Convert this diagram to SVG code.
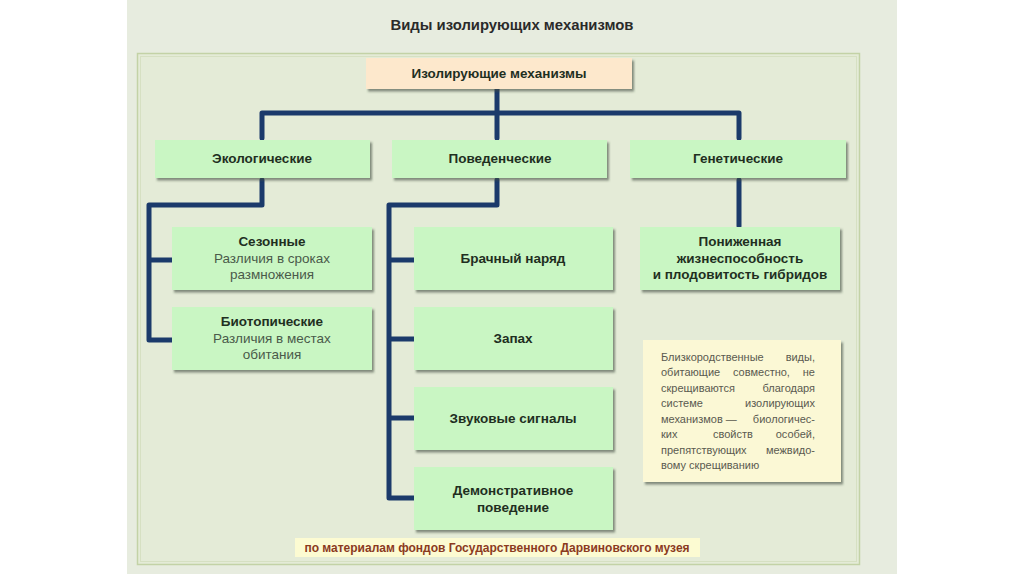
<svg xmlns="http://www.w3.org/2000/svg" width="1024" height="574" viewBox="0 0 1024 574">
<style>
.box{fill:#c9f6c3;filter:url(#sh)}
.b{font-family:"Liberation Sans",Arial,sans-serif;font-weight:bold;font-size:13.5px;fill:#1f2f1f;text-anchor:middle}
.r{font-family:"Liberation Sans",Arial,sans-serif;font-size:13.5px;fill:#4a5a4a;text-anchor:middle}
.n{font-family:"Liberation Sans",Arial,sans-serif;font-size:11px;fill:#5a5a50}
.con{fill:none;stroke:#1b3a6b;stroke-width:5;stroke-linejoin:round;stroke-linecap:round}
</style>
<defs>
<filter id="sh" x="-5%" y="-10%" width="115%" height="130%">
<feDropShadow dx="2" dy="2.5" stdDeviation="1" flood-color="#3a4a3a" flood-opacity="0.6"/>
</filter>
</defs>
<rect width="1024" height="574" fill="#ffffff"/>
<rect x="127" y="0" width="770" height="574" fill="#e7ecdf"/>
<rect x="137.5" y="53.5" width="722" height="511" fill="#e4ebd7" stroke="#c3d2a6" stroke-width="1.5"/>
<rect x="140.5" y="56.5" width="716" height="505" fill="none" stroke="#d6e0c2" stroke-width="1"/>
<text x="512" y="30" font-family="Liberation Sans,Arial,sans-serif" font-weight="bold" font-size="15" fill="#2a2a2a" text-anchor="middle" textLength="243" lengthAdjust="spacingAndGlyphs">Виды изолирующих механизмов</text>

<g id="connectors">
<path class="con" d="M497 89 V138 M262 138 V113 H739 V138"/>
<path class="con" d="M262 180 V205 H149 V340 H172 M149 260 H172"/>
<path class="con" d="M497 180 V205 H389 V498 H414 M389 260 H414 M389 339 H414 M389 418 H414"/>
<path class="con" d="M739 180 V226"/>
</g>

<g id="root">
<rect x="366" y="58" width="266" height="31" fill="#fde8cc" filter="url(#sh)"/>
<text class="b" x="499" y="78" textLength="175" lengthAdjust="spacingAndGlyphs">Изолирующие механизмы</text>
</g>
<g id="eco">
<rect class="box" x="155" y="140" width="215" height="38"/>
<text class="b" x="262" y="163">Экологические</text>
</g>
<g id="beh">
<rect class="box" x="392" y="140" width="215" height="38"/>
<text class="b" x="500" y="163">Поведенческие</text>
</g>
<g id="gen">
<rect class="box" x="630" y="140" width="216" height="38"/>
<text class="b" x="738" y="163">Генетические</text>
</g>
<g id="season">
<rect class="box" x="172" y="227" width="200" height="63"/>
<text class="b" x="272" y="246">Сезонные</text>
<text class="r" x="272" y="263">Различия в сроках</text>
<text class="r" x="272" y="279">размножения</text>
</g>
<g id="biotop">
<rect class="box" x="172" y="307" width="200" height="63"/>
<text class="b" x="272" y="326">Биотопические</text>
<text class="r" x="272" y="343">Различия в местах</text>
<text class="r" x="272" y="359">обитания</text>
</g>
<g id="dress">
<rect class="box" x="414" y="227" width="199" height="63"/>
<text class="b" x="513" y="263">Брачный наряд</text>
</g>
<g id="smell">
<rect class="box" x="414" y="307" width="199" height="63"/>
<text class="b" x="513" y="343">Запах</text>
</g>
<g id="sound">
<rect class="box" x="414" y="387" width="199" height="63"/>
<text class="b" x="513" y="423">Звуковые сигналы</text>
</g>
<g id="demo">
<rect class="box" x="414" y="467" width="199" height="63"/>
<text class="b" x="513" y="495">Демонстративное</text>
<text class="b" x="513" y="512">поведение</text>
</g>
<g id="hybrid">
<rect class="box" x="640" y="227" width="200" height="63"/>
<text class="b" x="740" y="246">Пониженная</text>
<text class="b" x="740" y="263">жизнеспособность</text>
<text class="b" x="740" y="279">и плодовитость гибридов</text>
</g>
<g id="note">
<rect x="643" y="340" width="198" height="142" fill="#fbf8d5" filter="url(#sh)"/>
<text class="n" x="661" y="361">Близкородственные</text><text class="n" x="815" y="361" text-anchor="end">виды,</text>
<text class="n" x="661" y="376">обитающие</text><text class="n" x="733" y="376">совместно,</text><text class="n" x="815" y="376" text-anchor="end">не</text>
<text class="n" x="661" y="392">скрещиваются</text><text class="n" x="815" y="392" text-anchor="end">благодаря</text>
<text class="n" x="661" y="407">системе</text><text class="n" x="815" y="407" text-anchor="end">изолирующих</text>
<text class="n" x="661" y="423">механизмов —</text><text class="n" x="815" y="423" text-anchor="end">биологичес-</text>
<text class="n" x="661" y="438">ких</text><text class="n" x="713" y="438">свойств</text><text class="n" x="815" y="438" text-anchor="end">особей,</text>
<text class="n" x="661" y="454">препятствующих</text><text class="n" x="815" y="454" text-anchor="end">межвидо-</text>
<text class="n" x="661" y="469">вому скрещиванию</text>
</g>
<g id="footer">
<rect x="295" y="538" width="405" height="19" fill="#fcfbd2"/>
<text x="497" y="552" font-family="Liberation Sans,Arial,sans-serif" font-weight="bold" font-size="12" fill="#8b3a1e" text-anchor="middle">по материалам фондов Государственного Дарвиновского музея</text>
</g>
</svg>
